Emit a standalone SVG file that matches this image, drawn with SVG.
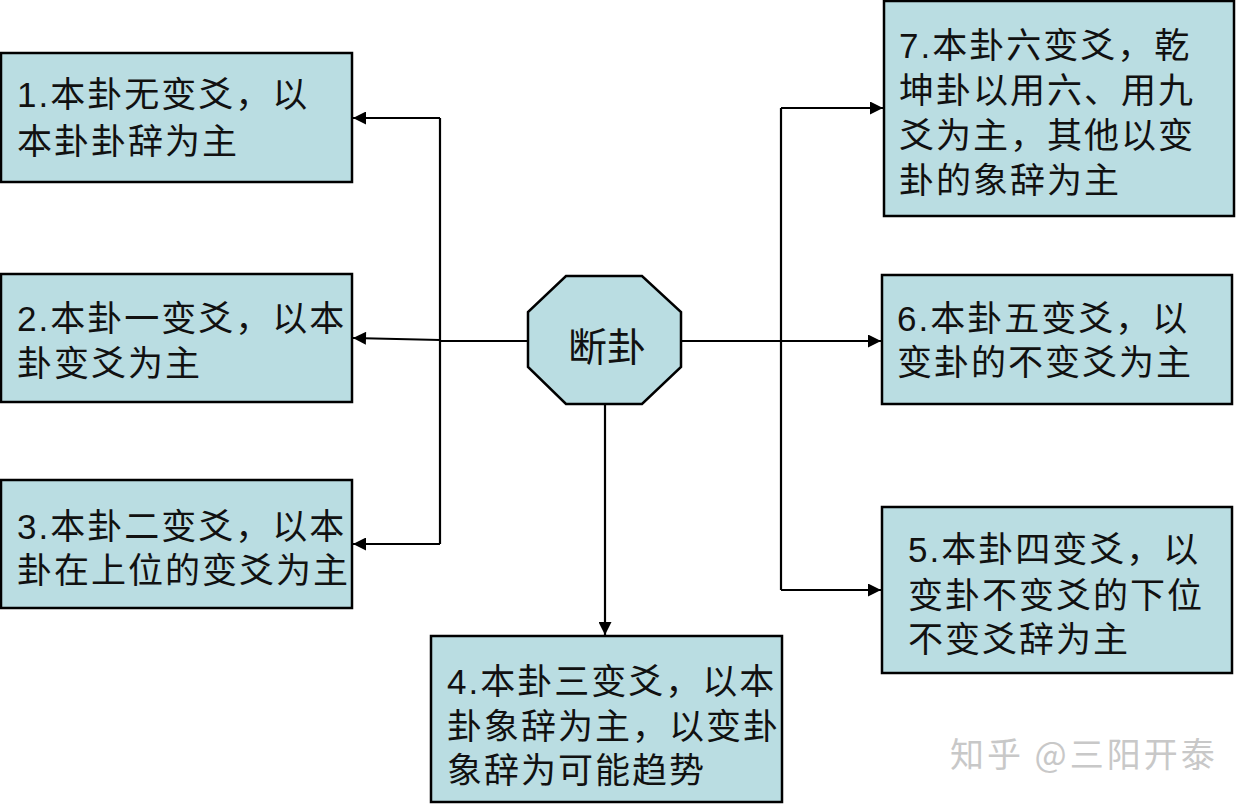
<svg xmlns="http://www.w3.org/2000/svg" width="1249" height="804" viewBox="0 0 1249 804">
<style>
.box{fill:#badde2;stroke:#000;stroke-width:2.5}
.t{font-family:"Liberation Sans","Noto Sans CJK SC",sans-serif;font-size:35px;fill:#111;letter-spacing:2px}
.c{fill:none;stroke:#000;stroke-width:2.2}
.wm{font-family:"Noto Sans CJK SC",sans-serif;font-size:34px;fill:#c8c8c8;letter-spacing:3px}
</style>
<defs>
<marker id="ah" viewBox="0 0 10 10" refX="10" refY="5" markerWidth="17" markerHeight="13" markerUnits="userSpaceOnUse" orient="auto">
<path d="M0,0 L10,5 L0,10 Z" fill="#000"/>
</marker>
</defs>
<rect width="1249" height="804" fill="#fff"/>
<g id="connectors">
<path class="c" d="M528,341 L440,341" stroke-width="3"/>
<path class="c" d="M440,118 L440,544"/>
<path class="c" d="M440,118 L353,118" marker-end="url(#ah)"/>
<path class="c" d="M440,340 L353,338" stroke-width="1.5" marker-end="url(#ah)"/>
<path class="c" d="M440,544 L353,544" marker-end="url(#ah)"/>
<path class="c" d="M681,341 L881,341" stroke-width="2.6" marker-end="url(#ah)"/>
<path class="c" d="M781,108 L781,590"/>
<path class="c" d="M781,108 L883,108" marker-end="url(#ah)"/>
<path class="c" d="M781,590 L881,590" marker-end="url(#ah)"/>
<path class="c" d="M605,405 L605,635" marker-end="url(#ah)"/>
</g>
<g id="center">
<polygon class="box" stroke-width="2" points="566,276 642,276 681,312 681,367 642,404 566,404 528,367 528,312"/>
<text x="607" y="361" text-anchor="middle" style="font-family:'Noto Sans CJK SC',sans-serif;font-size:39px;fill:#111">断卦</text>
</g>
<g id="n1">
<rect class="box" x="1" y="53" width="351" height="129"/>
<text class="t" x="17" y="107">1.本卦无变爻，以</text>
<text class="t" x="17" y="154">本卦卦辞为主</text>
</g>
<g id="n2">
<rect class="box" x="1" y="274" width="351" height="128"/>
<text class="t" x="17" y="331">2.本卦一变爻，以本</text>
<text class="t" x="17" y="376">卦变爻为主</text>
</g>
<g id="n3">
<rect class="box" x="1" y="480" width="351" height="128"/>
<text class="t" x="17" y="539">3.本卦二变爻，以本</text>
<text class="t" x="17" y="583">卦在上位的变爻为主</text>
</g>
<g id="n4">
<rect class="box" x="431" y="636" width="351" height="166"/>
<text class="t" x="447" y="694">4.本卦三变爻，以本</text>
<text class="t" x="447" y="739">卦象辞为主，以变卦</text>
<text class="t" x="447" y="783">象辞为可能趋势</text>
</g>
<g id="n5">
<rect class="box" x="882" y="507" width="350" height="166"/>
<text class="t" x="908" y="562">5.本卦四变爻，以</text>
<text class="t" x="908" y="608">变卦不变爻的下位</text>
<text class="t" x="908" y="652">不变爻辞为主</text>
</g>
<g id="n6">
<rect class="box" x="882" y="275" width="350" height="129"/>
<text class="t" x="897" y="331">6.本卦五变爻，以</text>
<text class="t" x="897" y="375">变卦的不变爻为主</text>
</g>
<g id="n7">
<rect class="box" x="884" y="1" width="350" height="215"/>
<text class="t" x="899" y="58">7.本卦六变爻，乾</text>
<text class="t" x="899" y="103">坤卦以用六、用九</text>
<text class="t" x="899" y="148">爻为主，其他以变</text>
<text class="t" x="899" y="193">卦的象辞为主</text>
</g>
<text class="wm" x="950" y="767">知乎 @三阳开泰</text>
</svg>
